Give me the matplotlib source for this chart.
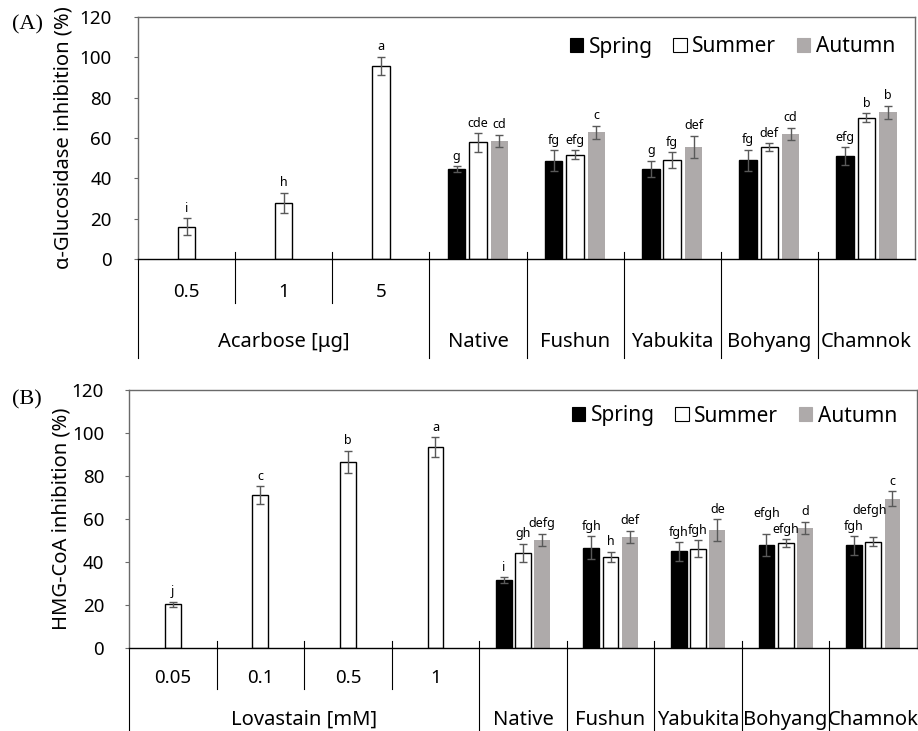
import numpy as np
import matplotlib
matplotlib.use("Agg")
import matplotlib.pyplot as plt
import matplotlib.patches as mpatches

matplotlib.rcParams.update({
    "font.family": ["Noto Sans", "DejaVu Sans"],
    "font.size": 13.5,
})

# -- Data ----------------------------------------------------------------------
cultivars = ["Native", "Fushun", "Yabukita", "Bohyang", "Chamnok"]
season_names = ["Spring", "Summer", "Autumn"]

# (A) alpha-glucosidase
acarbose_doses = ["0.5", "1", "5"]
acarbose_vals = [16.0, 27.9, 95.7]
acarbose_err = [4.2, 5.0, 4.6]
acarbose_sig = ["i", "h", "a"]

glu_spring = [44.5, 48.7, 44.6, 48.9, 51.1]
glu_spring_err = [1.5, 5.3, 4.1, 5.3, 4.3]
glu_spring_sig = ["g", "fg", "g", "fg", "efg"]
glu_summer = [57.8, 51.7, 48.9, 55.5, 70.1]
glu_summer_err = [4.5, 2.3, 4.0, 2.0, 2.1]
glu_summer_sig = ["cde", "efg", "fg", "def", "b"]
glu_autumn = [58.7, 62.8, 55.7, 62.0, 72.7]
glu_autumn_err = [3.0, 3.2, 5.4, 3.1, 3.4]
glu_autumn_sig = ["cd", "c", "def", "cd", "b"]

# (B) HMG-CoA reductase
lovastatin_doses = ["0.05", "0.1", "0.5", "1"]
lovastatin_vals = [20.4, 71.1, 86.7, 93.5]
lovastatin_err = [1.2, 4.2, 5.1, 4.6]
lovastatin_sig = ["j", "c", "b", "a"]

hmg_spring = [31.6, 46.7, 44.9, 48.0, 47.7]
hmg_spring_err = [1.4, 5.3, 4.3, 5.1, 4.3]
hmg_spring_sig = ["i", "fgh", "fgh", "efgh", "fgh"]
hmg_summer = [44.3, 42.4, 46.1, 48.8, 49.5]
hmg_summer_err = [4.2, 2.3, 4.0, 1.7, 2.2]
hmg_summer_sig = ["gh", "h", "fgh", "efgh", "defgh"]
hmg_autumn = [50.3, 51.7, 54.9, 55.9, 69.5]
hmg_autumn_err = [2.9, 2.9, 5.1, 2.9, 3.3]
hmg_autumn_sig = ["defg", "def", "de", "d", "c"]

# -- Style ---------------------------------------------------------------------
SEASON_COLORS = ["black", "white", "#aeaaaa"]
ERR_COLOR = "#595959"
BOX_COLOR = "#6a6a6a"
LABEL_SIZE = 14.5

W, H = 918, 731
fig = plt.figure(figsize=(W / 100, H / 100), dpi=100)


def add_axes_px(left, top, right, bottom):
    return fig.add_axes([left / W, 1 - bottom / H, (right - left) / W, (bottom - top) / H])


def frac(ax, px):
    """vertical pixels -> axes fraction"""
    return px / (ax.get_position().height * H)


def draw_panel(ax, std_name, std_doses, std_vals, std_err, std_sig, seasons,
               ylabel, ylabel_px, tick_pad, sub_px, main_px, num_px, grp_px,
               legend_px, lifts):
    n_std = len(std_doses)
    n_cat = n_std + len(cultivars)
    x_std = np.arange(n_std)
    x_cult = np.arange(n_std, n_cat)
    width, off = 0.18, 0.22
    ekw = dict(ecolor=ERR_COLOR, elinewidth=1, capsize=3, capthick=1)

    ax.bar(x_std, std_vals, width, yerr=std_err, color="white",
           edgecolor="black", linewidth=1, error_kw=ekw)
    for x, v, e, s in zip(x_std, std_vals, std_err, std_sig):
        ax.annotate(s, (x, v + e), xytext=(0, 2.5), textcoords="offset points",
                    ha="center", va="bottom", fontsize=9)

    for k, (vals, errs, sigs) in enumerate(seasons):
        xs = x_cult + (k - 1) * off
        color = SEASON_COLORS[k]
        ax.bar(xs, vals, width, yerr=errs, color=color,
               edgecolor="black" if k < 2 else color,
               linewidth=1 if k < 2 else 0, error_kw=ekw)
        for i, (x, v, e, s) in enumerate(zip(xs, vals, errs, sigs)):
            dx, dy = lifts.get((i, k), (0, 0))
            ax.annotate(s, (x, v + e), xytext=(dx * 0.72, 2.5 + dy * 0.72),
                        textcoords="offset points", ha="center", va="bottom",
                        fontsize=9)

    ax.set_xlim(-0.5, n_cat - 0.5)
    ax.set_ylim(0, 120)
    ax.set_yticks(np.arange(0, 121, 20))
    ax.set_xticks([])
    ax.tick_params(axis="y", length=3, color=BOX_COLOR, pad=tick_pad, labelsize=13.5)
    for side in ["top", "right", "left"]:
        ax.spines[side].set_color(BOX_COLOR)
        ax.spines[side].set_linewidth(1)
    ax.spines["bottom"].set_color("black")
    ax.spines["bottom"].set_linewidth(1)

    ax.set_ylabel(ylabel, fontsize=LABEL_SIZE)
    ax.yaxis.set_label_coords(ylabel_px / (ax.get_position().width * W), 0.5)

    # category table below the axis
    trans = ax.get_xaxis_transform()
    up = frac(ax, 7)
    for b in np.arange(0.5, n_std - 1, 1.0):
        ax.plot([b, b], [up, -frac(ax, sub_px)], transform=trans,
                color="black", lw=0.8, clip_on=False)
    for b in np.arange(n_std - 0.5, n_cat - 1, 1.0):
        ax.plot([b, b], [up, -frac(ax, main_px)], transform=trans,
                color="black", lw=0.8, clip_on=False)
    ax.plot([-0.5, -0.5], [0, -frac(ax, main_px)], transform=trans,
            color="black", lw=0.8, clip_on=False)

    for x, d in zip(x_std, std_doses):
        ax.text(x, -frac(ax, num_px), d, transform=trans, ha="center", va="center")
    ax.text((n_std - 1) / 2, -frac(ax, grp_px), std_name, transform=trans,
            ha="center", va="center", fontsize=LABEL_SIZE)
    for x, c in zip(x_cult, cultivars):
        ax.text(x, -frac(ax, grp_px), c, transform=trans, ha="center", va="center",
                fontsize=LABEL_SIZE)

    handles = [mpatches.Patch(facecolor=c, edgecolor="black" if c != SEASON_COLORS[2] else c,
                              linewidth=0.8, label=n)
               for c, n in zip(SEASON_COLORS, season_names)]
    ax.legend(handles=handles, ncol=3, loc="center right",
              bbox_to_anchor=(1 - 20 / (ax.get_position().width * W), 1 - frac(ax, legend_px)),
              frameon=False, fontsize=15, handlelength=0.65, handleheight=0.65,
              handletextpad=0.25, columnspacing=1.0, borderaxespad=0, borderpad=0)


# ==============================================================================
# (A) alpha-Glucosidase
# ==============================================================================
ax_a = add_axes_px(138, 17, 915, 259)
draw_panel(ax_a, "Acarbose [\u03bcg]", acarbose_doses, acarbose_vals, acarbose_err,
           acarbose_sig,
           [(glu_spring, glu_spring_err, glu_spring_sig),
            (glu_summer, glu_summer_err, glu_summer_sig),
            (glu_autumn, glu_autumn_err, glu_autumn_sig)],
           "\u03b1-Glucosidase inhibition (%)", 73 - 138, 16,
           44, 99, 33, 83, 30, {})
fig.text(12 / W, 1 - 25 / H, "(A)", family="Liberation Serif", fontsize=16,
         ha="left", va="center")

# ==============================================================================
# (B) HMG-CoA
# ==============================================================================
ax_b = add_axes_px(129, 390, 917, 648)
draw_panel(ax_b, "Lovastain [mM]", lovastatin_doses, lovastatin_vals, lovastatin_err,
           lovastatin_sig,
           [(hmg_spring, hmg_spring_err, hmg_spring_sig),
            (hmg_summer, hmg_summer_err, hmg_summer_sig),
            (hmg_autumn, hmg_autumn_err, hmg_autumn_sig)],
           "HMG-CoA inhibition (%)", 71 - 129, 15,
           41, 83, 30, 72, 26, {(3, 0): (0, 10), (4, 1): (-4, 16)})
fig.text(12 / W, 1 - 400 / H, "(B)", family="Liberation Serif", fontsize=16,
         ha="left", va="center")

fig.savefig("out.png", dpi=100)
